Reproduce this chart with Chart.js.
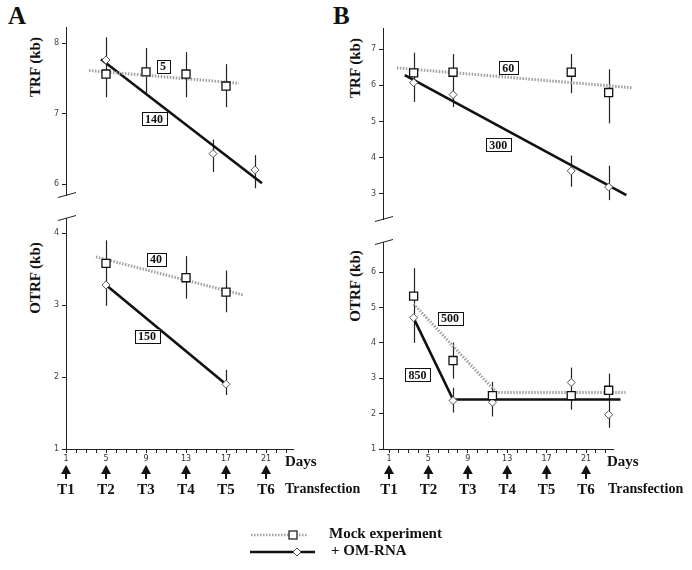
<!DOCTYPE html>
<html>
<head>
<meta charset="utf-8">
<script src="https://cdn.jsdelivr.net/npm/chart.js@4.4.1/dist/chart.umd.min.js"></script>
<style>
  body { margin: 0; background: #fff; }
  #wrap { position: relative; width: 692px; height: 570px; overflow: hidden;
          font-family: "Liberation Serif", "Times New Roman", serif; color: #111; }
  canvas { position: absolute; }
  .t { position: absolute; white-space: nowrap; line-height: 1; font-weight: bold; }
  .ylab { position: absolute; font-weight: bold; font-size: 15px; white-space: nowrap; line-height: 1;
          transform: translate(-50%, -50%) rotate(-90deg); }
</style>
</head>
<body>
<div id="wrap">
  <div class="t" style="left:8px;top:3px;font-size:25px">A</div>
  <div class="t" style="left:333px;top:3px;font-size:25px">B</div>

  <div class="ylab" style="left:35px;top:67px">TRF (kb)</div>
  <div class="ylab" style="left:35px;top:278px">OTRF (kb)</div>
  <div class="ylab" style="left:355px;top:68px">TRF (kb)</div>
  <div class="ylab" style="left:355px;top:286px">OTRF (kb)</div>

  <canvas id="aTop" width="345" height="215" style="left:0;top:0"></canvas>
  <canvas id="aBot" width="345" height="300" style="left:0;top:210px"></canvas>
  <canvas id="bTop" width="347" height="240" style="left:345px;top:0"></canvas>
  <canvas id="bBot" width="347" height="280" style="left:345px;top:230px"></canvas>

  <div class="t" style="left:285px;top:454px;font-size:15px">Days</div>
  <div class="t" style="left:285px;top:482px;font-size:14px">Transfection</div>
  <div class="t" style="left:607px;top:454px;font-size:15px">Days</div>
  <div class="t" style="left:608px;top:482px;font-size:14px">Transfection</div>

  <svg style="position:absolute;left:245px;top:525px" width="80" height="40">
    <line x1="6" y1="10" x2="63" y2="10" stroke="#a0a0a0" stroke-width="2.5" stroke-dasharray="1.5 1.5"/>
    <rect x="44" y="6" width="8" height="8" fill="#fff" stroke="#111" stroke-width="1.2"/>
    <line x1="5" y1="27" x2="70" y2="27" stroke="#111" stroke-width="2.5"/>
    <polygon points="52,23 56,27 52,31 48,27" fill="#fff" stroke="#555" stroke-width="1"/>
  </svg>
  <div class="t" style="left:329px;top:526px;font-size:15px">Mock experiment</div>
  <div class="t" style="left:331px;top:543px;font-size:15px">+ OM-RNA</div>
</div>

<script>
// ----------------------------
// axis ticks
// ----------------------------
const dayTicks = [1, 2, 3, 4, 5, 6, 7, 8, 9, 10, 11, 12, 13, 14, 15, 16, 17, 18, 19, 20, 21, 22, 23];
const dayLabels = [1, 5, 9, 13, 17, 21];
const transfectionDays = [1, 5, 9, 13, 17, 21];
const transfectionLabels = ['T1', 'T2', 'T3', 'T4', 'T5', 'T6'];

// ----------------------------
// A - TRF
// ----------------------------
const aTrfMockDays = [5, 9, 13, 17];
const aTrfMock = [7.56, 7.59, 7.56, 7.39];
const aTrfMockErr = [[7.23, 8.08], [7.29, 7.93], [7.23, 7.87], [7.09, 7.70]];
const aTrfOmDays = [5, 15.7, 19.9];
const aTrfOm = [7.76, 6.43, 6.20];
const aTrfOmErr = [null, [6.17, 6.63], [5.94, 6.41]];
const aTrfMockFit = [[3.3, 7.61], [18.3, 7.43]];
const aTrfOmFit = [[4.5, 7.77], [20.6, 6.01]];
const aTrfRates = [['5', 10.7, 7.67], ['140', 9.8, 6.93]];

// ----------------------------
// A - OTRF
// ----------------------------
const aOtrfMockDays = [5, 13, 17];
const aOtrfMock = [3.58, 3.38, 3.18];
const aOtrfMockErr = [[2.99, 3.90], [3.09, 3.68], [2.90, 3.48]];
const aOtrfOmDays = [5, 17];
const aOtrfOm = [3.28, 1.90];
const aOtrfOmErr = [null, [1.75, 2.10]];
const aOtrfMockFit = [[4, 3.67], [18.7, 3.14]];
const aOtrfOmFit = [[5, 3.28], [17, 1.90]];
const aOtrfRates = [['40', 10, 3.64], ['150', 9.1, 2.57]];

// ----------------------------
// B - TRF
// ----------------------------
const bTrfDays = [3.5, 7.5, 19.5, 23.3];
const bTrfMock = [6.34, 6.36, 6.36, 5.80];
const bTrfMockErr = [[5.54, 6.90], [5.58, 6.86], [5.78, 6.86], [4.95, 6.44]];
const bTrfOm = [6.07, 5.74, 3.64, 3.19];
const bTrfOmErr = [null, [5.40, 5.74], [3.20, 4.06], [2.83, 3.78]];
const bTrfMockFit = [[1.8, 6.48], [25.7, 5.93]];
const bTrfOmFit = [[2.6, 6.28], [25.1, 2.97]];
const bTrfRates = [['60', 13.1, 6.48], ['300', 12.1, 4.36]];

// ----------------------------
// B - OTRF
// ----------------------------
const bOtrfDays = [3.5, 7.5, 11.5, 19.5, 23.3];
const bOtrfMock = [5.32, 3.50, 2.51, 2.51, 2.66];
const bOtrfMockErr = [[4.00, 6.11], [2.99, 4.01], [1.92, 2.90], [2.11, 3.30], [1.60, 3.13]];
const bOtrfOm = [4.71, 2.37, 2.32, 2.88, 1.97];
const bOtrfOmErr = [null, [2.03, 2.73], null, null, null];
const bOtrfMockFit = [[3.5, 5.1], [11.9, 2.6], [25, 2.6]];
const bOtrfOmFit = [[3.5, 4.7], [7.5, 2.4], [24.5, 2.4]];
const bOtrfRates = [['500', 7.2, 4.70], ['850', 3.9, 3.10]];

const ink = '#111';
const mockGrey = '#a0a0a0';

function pts(days, vals) {
  return days.map((d, i) => ({ x: d, y: vals[i] }));
}
function bars(days, err) {
  return days.map((d, i) => err[i] ? [d, err[i][0], err[i][1]] : null).filter(Boolean);
}

// error bars, rate boxes, axis breaks, arrows
function extrasPlugin(p) {
  return {
    id: 'extras',
    beforeDatasetsDraw(chart) {
      const { ctx, scales: { x, y } } = chart;
      ctx.save();
      ctx.strokeStyle = '#222';
      ctx.lineWidth = 1.2;
      p.bars.forEach(b => {
        const px = Math.round(x.getPixelForValue(b[0])) + 0.5;
        ctx.beginPath();
        ctx.moveTo(px, y.getPixelForValue(b[1]));
        ctx.lineTo(px, y.getPixelForValue(b[2]));
        ctx.stroke();
      });
      ctx.restore();
    },
    afterDatasetsDraw(chart) {
      const { ctx, chartArea, scales: { x, y } } = chart;
      ctx.save();
      // rate boxes
      ctx.font = 'bold 12px "Liberation Serif"';
      ctx.textAlign = 'center';
      ctx.textBaseline = 'middle';
      p.rates.forEach(r => {
        const px = x.getPixelForValue(r[1]);
        const py = y.getPixelForValue(r[2]);
        const w = ctx.measureText(r[0]).width + 7;
        const h = 13;
        ctx.fillStyle = '#fff';
        ctx.fillRect(px - w / 2, py - h / 2, w, h);
        ctx.strokeStyle = ink;
        ctx.lineWidth = 1;
        ctx.strokeRect(Math.round(px - w / 2) + 0.5, Math.round(py - h / 2) + 0.5, Math.round(w), h);
        ctx.fillStyle = ink;
        ctx.fillText(r[0], px, py + 1);
      });
      // axis break mark
      const by = p.breakAt === 'bottom' ? chartArea.bottom : chartArea.top;
      ctx.strokeStyle = '#222';
      ctx.lineWidth = 1;
      ctx.beginPath();
      ctx.moveTo(chartArea.left - 8, by + 2.5);
      ctx.lineTo(chartArea.left + 10, by - 2.5);
      ctx.stroke();
      // transfection arrows
      const xT = chart.scales.xT;
      if (xT) {
        ctx.fillStyle = ink;
        transfectionDays.forEach(d => {
          const px = xT.getPixelForValue(d);
          const t = xT.top;
          ctx.beginPath();
          ctx.moveTo(px, t);
          ctx.lineTo(px - 5, t + 9);
          ctx.lineTo(px + 5, t + 9);
          ctx.closePath();
          ctx.fill();
          ctx.fillRect(px - 1, t + 8, 2, 6);
        });
      }
      ctx.restore();
    }
  };
}

function makePanel(id, p) {
  const xBase = { type: 'linear', min: p.xMin, max: p.xMax };
  const scales = {
    y: {
      min: p.yMin, max: p.yMax,
      afterFit: s => { s.width = p.yWidth; },
      ticks: { stepSize: 1, includeBounds: false, padding: 3, color: '#444',
               font: { size: 8, family: 'DejaVu Sans' } },
      grid: { drawOnChartArea: false, tickLength: 4, color: '#222' },
      border: { color: '#222', width: 1 }
    }
  };
  if (p.showX) {
    scales.x = Object.assign({}, xBase, {
      position: 'bottom',
      afterBuildTicks: s => { s.ticks = dayTicks.map(v => ({ value: v })); },
      afterFit: s => { s.height = 16; },
      ticks: { autoSkip: false, maxRotation: 0, padding: 1, color: '#333',
               font: { size: 8, family: 'DejaVu Sans' },
               callback: v => dayLabels.includes(v) ? String(v) : '' },
      grid: { drawOnChartArea: false, tickLength: 4, color: '#222' },
      border: { color: '#222', width: 1 }
    });
    scales.xT = Object.assign({}, xBase, {
      position: 'bottom',
      afterBuildTicks: s => { s.ticks = transfectionDays.map(v => ({ value: v })); },
      afterFit: s => { s.height = 45; },
      ticks: { autoSkip: false, maxRotation: 0, padding: 16, color: ink,
               font: { size: 15, weight: 'bold', family: 'Liberation Serif' },
               callback: (v, i) => transfectionLabels[i] },
      grid: { display: false, drawTicks: false },
      border: { display: false }
    });
  } else {
    scales.x = Object.assign({}, xBase, { display: false });
  }

  new Chart(document.getElementById(id), {
    type: 'scatter',
    data: {
      datasets: [
        { label: 'Mock experiment', data: pts(p.mockDays, p.mock), pointStyle: 'rect',
          pointRadius: 5.7, pointBackgroundColor: '#fff', pointBorderColor: ink,
          pointBorderWidth: 1.3, clip: false },
        { label: '+ OM-RNA', data: pts(p.omDays, p.om), pointStyle: 'rectRot',
          pointRadius: 4, pointBackgroundColor: '#fff', pointBorderColor: '#555',
          pointBorderWidth: 1, clip: false },
        { label: 'mock fit', data: p.mockFit.map(q => ({ x: q[0], y: q[1] })), showLine: true,
          pointRadius: 0, borderColor: mockGrey, borderWidth: 3, borderDash: [1.5, 1.5], clip: false },
        { label: 'OM fit', data: p.omFit.map(q => ({ x: q[0], y: q[1] })), showLine: true,
          pointRadius: 0, borderColor: ink, borderWidth: 2.6, clip: false }
      ]
    },
    options: {
      responsive: false,
      animation: false,
      layout: { padding: p.pad, autoPadding: false },
      scales,
      plugins: { legend: { display: false }, tooltip: { enabled: false } }
    },
    plugins: [extrasPlugin({
      bars: bars(p.mockDays, p.mockErr).concat(bars(p.omDays, p.omErr)),
      rates: p.rates,
      breakAt: p.breakAt
    })]
  });
}

makePanel('aTop', {
  xMin: 1, xMax: 23.7, yMin: 5.844, yMax: 8.227, yWidth: 66,
  pad: { left: 0, top: 27, right: 52, bottom: 20 }, showX: false, breakAt: 'bottom',
  mockDays: aTrfMockDays, mock: aTrfMock, mockErr: aTrfMockErr,
  omDays: aTrfOmDays, om: aTrfOm, omErr: aTrfOmErr,
  mockFit: aTrfMockFit, omFit: aTrfOmFit, rates: aTrfRates
});
makePanel('aBot', {
  xMin: 1, xMax: 23.7, yMin: 1, yMax: 4.21, yWidth: 66,
  pad: { left: 0, top: 8, right: 52, bottom: 0 }, showX: true, breakAt: 'top',
  mockDays: aOtrfMockDays, mock: aOtrfMock, mockErr: aOtrfMockErr,
  omDays: aOtrfOmDays, om: aOtrfOm, omErr: aOtrfOmErr,
  mockFit: aOtrfMockFit, omFit: aOtrfOmFit, rates: aOtrfRates
});
makePanel('bTop', {
  xMin: 0.39, xMax: 23.74, yMin: 2.31, yMax: 7.58, yWidth: 38,
  pad: { left: 0, top: 28, right: 79, bottom: 21 }, showX: false, breakAt: 'bottom',
  mockDays: bTrfDays, mock: bTrfMock, mockErr: bTrfMockErr,
  omDays: bTrfDays, om: bTrfOm, omErr: bTrfOmErr,
  mockFit: bTrfMockFit, omFit: bTrfOmFit, rates: bTrfRates
});
makePanel('bBot', {
  xMin: 0.39, xMax: 23.74, yMin: 1, yMax: 6.85, yWidth: 38,
  pad: { left: 0, top: 12, right: 79, bottom: 0 }, showX: true, breakAt: 'top',
  mockDays: bOtrfDays, mock: bOtrfMock, mockErr: bOtrfMockErr,
  omDays: bOtrfDays, om: bOtrfOm, omErr: bOtrfOmErr,
  mockFit: bOtrfMockFit, omFit: bOtrfOmFit, rates: bOtrfRates
});
</script>
</body>
</html>
